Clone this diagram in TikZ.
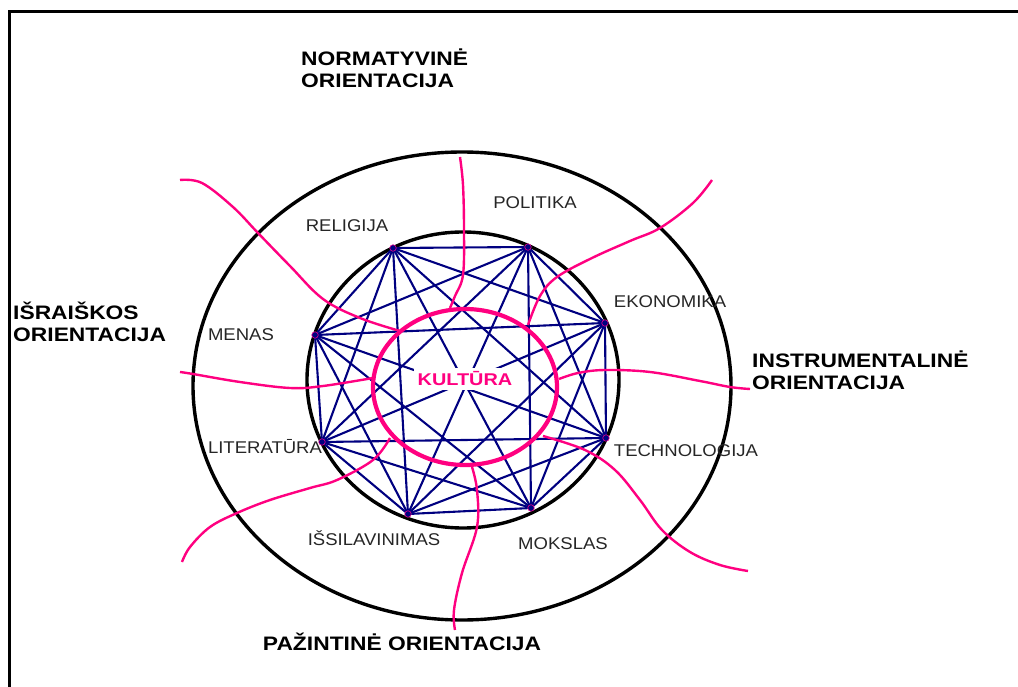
\documentclass[tikz,border=0pt]{standalone}
\usepackage{fontspec}
\newfontfamily\lblfont[FakeStretch=1.09]{Liberation Sans}
\newfontfamily\orfont[FakeStretch=1.17]{Liberation Sans}
\usetikzlibrary{positioning}
\definecolor{navyline}{RGB}{0,0,128}
\definecolor{hotpink}{RGB}{255,0,128}
\tikzset{
  ring/.style={line width=3.4pt,draw=black},
  link/.style={line width=2.1pt,draw=navyline},
  vertex/.style={circle,fill=navyline,draw=magenta,line width=0.6pt,inner sep=0pt,minimum size=6.5pt},
  stream/.style={line width=2.4pt,draw=hotpink},
  field/.style={font=\lblfont\fontsize{17}{20}\selectfont,text=black!85,inner sep=0pt},
  orient/.style={font=\orfont\bfseries\fontsize{19.5}{22.5}\selectfont,align=left,inner sep=0pt}
}

\begin{document}
\begin{tikzpicture}[x=1pt,y=-1pt]
  \useasboundingbox (0,0) rectangle (1018,687);
  \draw[line width=3pt] (1022,12) -- (9,12) -- (9,690);

  % rings
  \draw[ring] (462,386) ellipse (269 and 234);
  \draw[ring] (463,380) ellipse (156 and 148);

  % spheres on the inner ring
  \coordinate (rel) at (393,248);
  \coordinate (pol) at (528,247);
  \coordinate (eko) at (605,323);
  \coordinate (tec) at (606,438);
  \coordinate (mok) at (531,508);
  \coordinate (iss) at (408,514);
  \coordinate (lit) at (322,442);
  \coordinate (men) at (315,335);

  \foreach \u [count=\i] in {rel,pol,eko,tec,mok,iss,lit,men}
    \foreach \v [count=\j] in {rel,pol,eko,tec,mok,iss,lit,men}
      {\ifnum\j>\i \draw[link] (\u) -- (\v); \fi}

  \foreach \p in {rel,pol,eko,tec,mok,iss,lit,men}
    \node[vertex] (\p-dot) at (\p) {};

  \node[font=\orfont\bfseries\fontsize{17}{19}\selectfont,text=hotpink,fill=white,inner sep=4pt] (kult) at (465,379) {KULTŪRA};
  \draw[line width=4.2pt,draw=hotpink] (465,387) ellipse (92 and 78);

  % orientation streams
  \draw[stream] plot[smooth,tension=0.6] coordinates {
    (180,180) (202,183) (233,207) (258,233) (290,266) (323,299) (360,318) (400,331)};
  \draw[stream] plot[smooth,tension=0.6] coordinates {
    (460,157) (463,185) (464,230) (463,275) (455,296) (450,308)};
  \draw[stream] plot[smooth,tension=0.6] coordinates {
    (712,180) (693,203) (660,228) (630,241) (592,258) (557,277) (540,296) (528,325)};
  \draw[stream] plot[smooth,tension=0.6] coordinates {
    (180,372) (193,374) (240,382) (290,388) (323,386) (373,378)};
  \draw[stream] plot[smooth,tension=0.6] coordinates {
    (559,379) (578,373) (605,370) (650,372) (700,381) (730,387) (750,389)};
  \draw[stream] plot[smooth,tension=0.6] coordinates {
    (390,438) (373,460) (337,480) (310,488) (270,500) (237,513) (210,527) (190,547) (182,562)};
  \draw[stream] plot[smooth,tension=0.6] coordinates {
    (472,467) (477,490) (477,527) (462,573) (454,610) (455,630)};
  \draw[stream] plot[smooth,tension=0.6] coordinates {
    (543,436) (585,450) (615,470) (640,500) (662,530) (690,552) (720,565) (748,571)};

  % sphere labels
  \node[field,anchor=base] (rel-lbl) at (347,232) {RELIGIJA};
  \node[field,anchor=base] (pol-lbl) at (535,209) {POLITIKA};
  \node[field,anchor=base] (eko-lbl) at (670,308) {EKONOMIKA};
  \node[field,anchor=base] (men-lbl) at (241,340) {MENAS};
  \node[field,anchor=base] (lit-lbl) at (265,453) {LITERATŪRA};
  \node[field,anchor=base] (tec-lbl) at (686,456) {TECHNOLOGIJA};
  \node[field,anchor=base] (iss-lbl) at (374,545) {IŠSILAVINIMAS};
  \node[field,anchor=base] (mok-lbl) at (563,549) {MOKSLAS};

  % orientations
  \node[orient,anchor=west] (norm) at (301,68) {NORMATYVINĖ\\ORIENTACIJA};
  \node[orient,anchor=west] (isr) at (13,322) {IŠRAIŠKOS\\ORIENTACIJA};
  \node[orient,anchor=west] (instr) at (752,370) {INSTRUMENTALINĖ\\ORIENTACIJA};
  \node[orient,anchor=base] (paz) at (402,650) {PAŽINTINĖ ORIENTACIJA};
\end{tikzpicture}
\end{document}
